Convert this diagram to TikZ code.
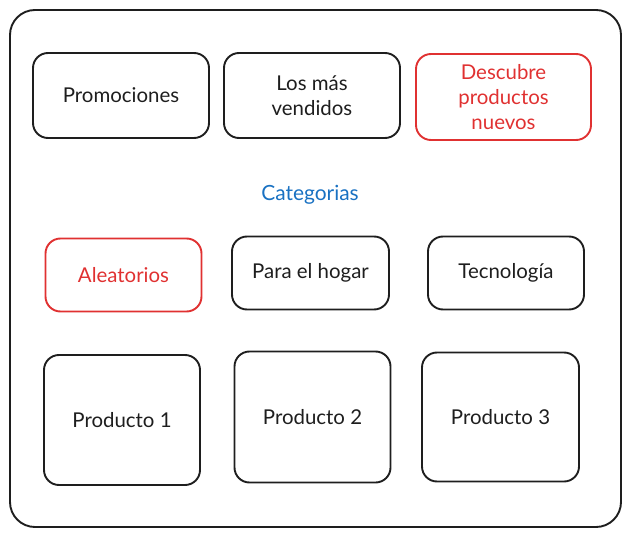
\documentclass[tikz,border=0pt]{standalone}
\usepackage{fontspec}
\setmainfont{Lato}
\definecolor{inkblack}{HTML}{1E1E1E}
\definecolor{inkred}{HTML}{E03131}
\definecolor{inkblue}{HTML}{1971C2}
\begin{document}
\begin{tikzpicture}[x=1bp,y=-1bp,
  box/.style={rectangle, draw=inkblack, line width=1.9bp, rounded corners=15bp, align=center, text=inkblack, inner sep=0pt, font=\fontsize{20.5}{25}\selectfont},
  redbox/.style={box, draw=inkred, text=inkred}]
\useasboundingbox (0,0) rectangle (630,537);
\node [rectangle, draw=inkblack, line width=1.9bp, rounded corners=25bp, minimum width=611bp, minimum height=517bp] (marco) at (315.5,268.5) {};
\node [box, minimum width=176bp, minimum height=85bp] (promociones) at (121,95.5) {Promociones};
\node [box, minimum width=176bp, minimum height=85bp] (masvendidos) at (312,95.5) {Los más\\vendidos};
\node [redbox, minimum width=175bp, minimum height=86bp] (descubre) at (503.5,97) {Descubre\\productos\\nuevos};
\node [text=inkblue, font=\fontsize{21}{25}\selectfont] (categorias) at (310,195) {Categorias};
\node [redbox, minimum width=156bp, minimum height=73bp] (aleatorios) at (123.5,275) {Aleatorios};
\node [box, minimum width=157bp, minimum height=73bp] (hogar) at (310.5,273) {Para el hogar};
\node [box, minimum width=156bp, minimum height=73bp] (tecnologia) at (506,273) {Tecnología};
\node [box, minimum width=156bp, minimum height=130bp] (producto1) at (122,420) {Producto 1};
\node [box, minimum width=156bp, minimum height=131bp] (producto2) at (312.5,417) {Producto 2};
\node [box, minimum width=157bp, minimum height=129bp] (producto3) at (500.5,417) {Producto 3};
\end{tikzpicture}
\end{document}
